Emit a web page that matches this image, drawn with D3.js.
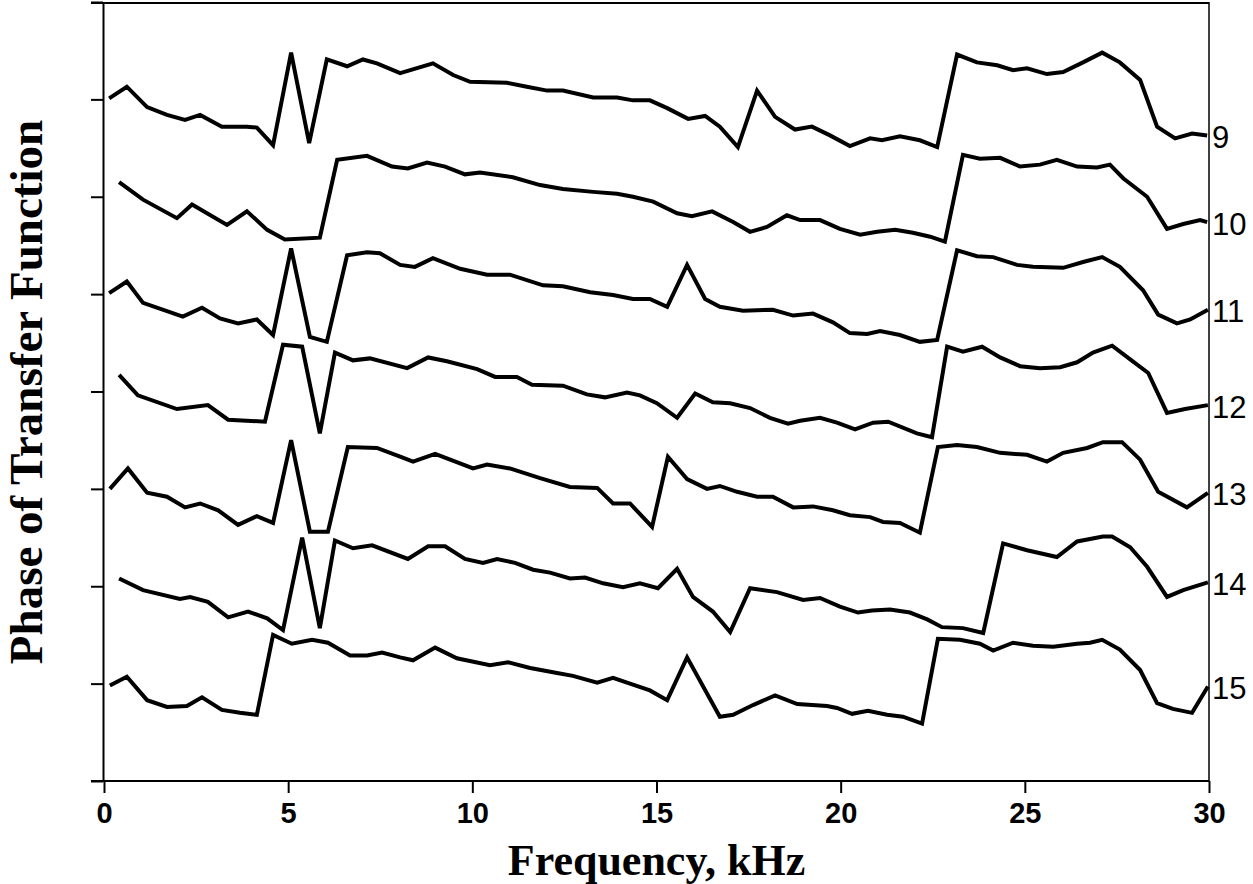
<!DOCTYPE html>
<html>
<head>
<meta charset="utf-8">
<script src="https://cdn.jsdelivr.net/npm/d3@7"></script>
<style>
  html, body { margin: 0; padding: 0; background: #fff; }
  svg { display: block; }
</style>
</head>
<body>
<svg id="chart" width="1253" height="884"></svg>
<script>
// ---- data (frequency in kHz, phase in offset axis units) ----
const curveLabels = ["9", "10", "11", "12", "13", "14", "15"];
const xTicks = [0, 5, 10, 15, 20, 25, 30];
const yTicks = [0, 1, 2, 3, 4, 5, 6, 7, 8];

const freq9 = [0.14,0.62,1.17,1.71,2.20,2.61,3.20,3.88,4.15,4.59,5.08,5.57,6.05,6.60,7.03,7.41,8.04,8.93,9.48,9.94,10.94,11.48,12.03,12.46,13.28,13.93,14.36,14.82,15.29,15.86,16.32,16.72,17.21,17.73,18.22,18.76,19.22,19.71,20.25,20.80,21.12,21.61,22.15,22.62,23.16,23.70,24.25,24.68,25.06,25.60,26.04,26.58,27.10,27.58,28.13,28.59,29.08,29.54,29.95];
const phase9 = [7.01,7.13,6.92,6.84,6.79,6.84,6.72,6.72,6.71,6.53,7.48,6.55,7.41,7.34,7.41,7.37,7.27,7.37,7.25,7.18,7.17,7.13,7.09,7.09,7.02,7.02,6.99,6.99,6.91,6.80,6.83,6.72,6.51,7.09,6.82,6.69,6.72,6.63,6.52,6.60,6.58,6.62,6.58,6.51,7.46,7.38,7.35,7.30,7.32,7.26,7.28,7.38,7.48,7.38,7.20,6.72,6.60,6.65,6.63];

const freq10 = [0.41,1.06,1.98,2.39,3.34,3.88,4.43,4.91,5.86,6.33,7.14,7.82,8.25,8.77,9.26,9.80,10.21,11.10,11.84,12.46,13.28,13.93,14.36,14.91,15.56,15.96,16.51,17.08,17.54,18.00,18.54,18.90,19.44,19.98,20.53,20.99,21.48,21.96,22.43,22.83,23.32,23.78,24.33,24.87,25.41,25.87,26.42,26.96,27.31,27.67,28.32,28.86,29.30,29.76,29.95];
const phase10 = [6.15,5.97,5.78,5.92,5.71,5.85,5.66,5.56,5.58,6.38,6.42,6.31,6.29,6.35,6.31,6.23,6.25,6.20,6.12,6.08,6.05,6.03,6.00,5.95,5.83,5.80,5.85,5.74,5.64,5.69,5.81,5.76,5.76,5.67,5.61,5.64,5.66,5.63,5.59,5.54,6.43,6.39,6.40,6.31,6.33,6.38,6.31,6.30,6.33,6.19,6.00,5.67,5.72,5.76,5.74];

const freq11 = [0.14,0.62,1.06,2.14,2.66,3.15,3.64,4.15,4.59,5.08,5.59,6.05,6.60,7.14,7.49,8.04,8.44,8.93,9.67,10.40,11.02,11.92,12.46,13.20,13.82,14.36,14.82,15.29,15.83,16.32,16.72,17.35,18.16,18.71,19.25,19.79,20.25,20.72,21.07,21.61,22.15,22.62,23.16,23.70,24.14,24.79,25.22,26.04,26.58,27.10,27.58,28.21,28.62,29.13,29.49,29.97];
const phase11 = [5.01,5.13,4.91,4.77,4.86,4.75,4.70,4.74,4.58,5.47,4.56,4.51,5.40,5.43,5.42,5.30,5.28,5.37,5.26,5.20,5.20,5.09,5.08,5.02,4.99,4.95,4.95,4.87,5.30,4.95,4.87,4.83,4.84,4.78,4.80,4.71,4.60,4.59,4.62,4.58,4.51,4.53,5.45,5.39,5.38,5.30,5.28,5.27,5.33,5.38,5.28,5.04,4.79,4.70,4.74,4.84];

const freq12 = [0.41,0.92,1.98,2.82,3.37,4.37,4.86,5.38,5.86,6.27,6.76,7.22,8.23,8.80,9.31,10.13,10.62,11.21,11.62,12.46,13.11,13.60,14.20,14.55,15.01,15.56,16.05,16.53,17.00,17.54,18.08,18.57,18.90,19.44,19.90,20.39,20.88,21.29,22.07,22.48,22.89,23.32,23.84,24.33,24.87,25.41,25.96,26.42,26.85,27.37,27.86,28.35,28.86,29.35,29.97];
const phase12 = [4.17,3.96,3.82,3.86,3.71,3.69,4.48,4.46,3.57,4.40,4.32,4.34,4.24,4.35,4.31,4.23,4.15,4.15,4.07,4.06,3.97,3.94,3.99,3.96,3.88,3.73,3.98,3.89,3.88,3.83,3.73,3.67,3.70,3.73,3.68,3.61,3.68,3.69,3.57,3.53,4.46,4.41,4.46,4.35,4.26,4.24,4.25,4.30,4.40,4.47,4.33,4.19,3.78,3.82,3.86];

const freq13 = [0.16,0.65,1.17,1.71,2.20,2.61,3.10,3.64,4.15,4.59,5.08,5.59,6.08,6.62,7.41,8.04,8.39,8.99,10.02,10.40,11.02,11.84,12.65,13.39,13.82,14.28,14.88,15.31,15.83,16.37,16.72,17.19,17.73,18.16,18.71,19.25,19.79,20.25,20.80,21.15,21.61,22.15,22.64,23.16,23.70,24.33,25.06,25.60,26.04,26.69,27.12,27.64,28.13,28.62,29.40,29.97];
const phase13 = [3.00,3.21,2.96,2.92,2.81,2.85,2.78,2.63,2.72,2.65,3.50,2.56,2.56,3.43,3.42,3.33,3.28,3.36,3.21,3.25,3.21,3.11,3.02,3.01,2.85,2.85,2.61,3.33,3.10,3.00,3.03,2.97,2.92,2.92,2.81,2.82,2.78,2.73,2.71,2.66,2.65,2.55,3.43,3.45,3.43,3.37,3.35,3.28,3.37,3.42,3.48,3.48,3.30,2.97,2.81,2.96];

const freq14 = [0.41,1.06,2.06,2.34,2.82,3.37,3.91,4.43,4.86,5.38,5.86,6.27,6.76,7.28,8.25,8.80,9.26,9.80,10.29,10.67,11.16,11.65,12.11,12.65,13.06,13.55,14.09,14.55,15.04,15.56,15.99,16.53,17.00,17.54,18.27,18.98,19.44,19.98,20.47,20.85,21.34,21.88,22.35,22.75,23.32,23.87,24.41,25.06,25.87,26.42,27.12,27.37,27.86,28.32,28.86,29.30,29.97];
const phase14 = [2.08,1.96,1.87,1.89,1.84,1.68,1.74,1.67,1.55,2.50,1.57,2.47,2.39,2.42,2.28,2.41,2.41,2.28,2.24,2.28,2.24,2.17,2.14,2.08,2.09,2.03,1.99,2.03,1.98,2.18,1.89,1.74,1.53,1.98,1.94,1.86,1.88,1.79,1.73,1.75,1.76,1.73,1.66,1.58,1.57,1.52,2.44,2.37,2.30,2.46,2.51,2.51,2.40,2.20,1.89,1.96,2.04];

const freq15 = [0.16,0.62,1.17,1.71,2.25,2.66,3.20,3.69,4.15,4.59,5.10,5.65,6.08,6.68,7.14,7.55,8.04,8.39,8.99,9.58,10.48,10.97,11.57,12.30,12.73,13.39,13.82,14.36,14.82,15.29,15.83,16.72,17.08,17.62,18.22,18.82,19.63,19.90,20.31,20.74,21.26,21.69,22.21,22.64,23.24,23.78,24.14,24.68,25.22,25.77,26.42,26.77,27.10,27.58,28.13,28.59,29.02,29.54,29.97];
const phase15 = [0.98,1.07,0.83,0.76,0.77,0.86,0.73,0.70,0.68,1.50,1.41,1.45,1.42,1.29,1.29,1.32,1.27,1.24,1.37,1.26,1.19,1.22,1.16,1.11,1.08,1.01,1.06,0.99,0.93,0.83,1.27,0.66,0.68,0.78,0.88,0.79,0.77,0.75,0.69,0.72,0.68,0.66,0.59,1.46,1.45,1.41,1.34,1.42,1.39,1.38,1.41,1.42,1.45,1.35,1.14,0.80,0.74,0.70,0.97];

const freqs = [freq9, freq10, freq11, freq12, freq13, freq14, freq15];
const phases = [phase9, phase10, phase11, phase12, phase13, phase14, phase15];

// ---- layout ----
const svg = d3.select("#chart");
const x = d3.scaleLinear().domain([0, 30]).range([104, 1209]);
const y = d3.scaleLinear().domain([0, 8]).range([781, 2]);

// frame: top and right lines
svg.append("line")
  .attr("x1", x(0) - 13).attr("x2", x(30))
  .attr("y1", y(8) + 1).attr("y2", y(8) + 1)
  .attr("stroke", "#000").attr("stroke-width", 2);
svg.append("line")
  .attr("x1", x(30)).attr("x2", x(30))
  .attr("y1", y(8)).attr("y2", y(0))
  .attr("stroke", "#000").attr("stroke-width", 1.5);

// left axis (ticks only)
const yAxis = svg.append("g")
  .attr("transform", `translate(${x(0) - 1},0)`)
  .call(d3.axisLeft(y).tickValues(yTicks).tickSize(12).tickSizeOuter(0).tickFormat(""));
yAxis.selectAll("path, line").attr("stroke", "#000").attr("stroke-width", 2);

// bottom axis
const xAxis = svg.append("g")
  .attr("transform", `translate(0,${y(0)})`)
  .call(d3.axisBottom(x).tickValues(xTicks).tickSize(12).tickSizeOuter(0).tickPadding(9).tickFormat(d3.format("d")));
xAxis.select(".domain").attr("stroke", "#000").attr("stroke-width", 2)
  .attr("d", `M${x(0) - 13},0H${x(30)}`);
xAxis.selectAll(".tick line").attr("stroke", "#000").attr("stroke-width", 2);
xAxis.selectAll(".tick text")
  .attr("fill", "#000")
  .style("font-family", "'Liberation Sans', Arial, sans-serif")
  .style("font-weight", "bold")
  .style("font-size", "29px");

// curves
const line = d3.line().x(d => x(d[0])).y(d => y(d[1]));
const series = curveLabels.map((lab, i) => ({ label: lab, pts: d3.zip(freqs[i], phases[i]) }));

svg.append("g").selectAll("path")
  .data(series)
  .join("path")
  .attr("d", d => line(d.pts))
  .attr("fill", "none")
  .attr("stroke", "#000")
  .attr("stroke-width", 4)
  .attr("stroke-linejoin", "miter")
  .attr("stroke-miterlimit", 3);

// right-hand curve labels
svg.append("g").selectAll("text")
  .data(series)
  .join("text")
  .attr("x", x(30) + 3)
  .attr("y", d => y(d.pts[d.pts.length - 1][1]) + 2)
  .attr("dominant-baseline", "central")
  .style("font-family", "'Liberation Sans', Arial, sans-serif")
  .style("font-size", "31px")
  .attr("fill", "#000")
  .text(d => d.label);

// axis titles
svg.append("text")
  .attr("x", (x(0) + x(30)) / 2)
  .attr("y", 875)
  .attr("text-anchor", "middle")
  .style("font-family", "'Liberation Serif', 'Times New Roman', serif")
  .style("font-weight", "bold")
  .style("font-size", "44px")
  .text("Frequency, kHz");

svg.append("text")
  .attr("transform", "translate(42,392) rotate(-90)")
  .attr("text-anchor", "middle")
  .style("font-family", "'Liberation Serif', 'Times New Roman', serif")
  .style("font-weight", "bold")
  .style("font-size", "47px")
  .text("Phase of Transfer Function");
</script>
</body>
</html>
